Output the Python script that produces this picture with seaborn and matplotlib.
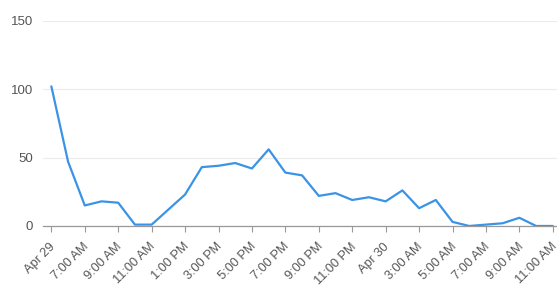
import matplotlib
matplotlib.use("Agg")
import matplotlib.pyplot as plt
import matplotlib.transforms as mtransforms
import seaborn as sns
import pandas as pd

values = [102, 47, 15, 18, 17, 1, 1, 12, 23, 43, 44, 46, 42, 56, 39, 37,
          22, 24, 19, 21, 18, 26, 13, 19, 3, 0, 1, 2, 6, 0, 0]
tick_labels = ["Apr 29", "7:00 AM", "9:00 AM", "11:00 AM", "1:00 PM", "3:00 PM",
               "5:00 PM", "7:00 PM", "9:00 PM", "11:00 PM", "Apr 30", "3:00 AM",
               "5:00 AM", "7:00 AM", "9:00 AM", "11:00 AM"]
y_ticks = [0, 50, 100, 150]

sns.set_theme(style="white")
plt.rcParams['font.family'] = ['Liberation Sans', 'DejaVu Sans']

df = pd.DataFrame({"hour": range(len(values)), "value": values})

fig = plt.figure(figsize=(5.57, 2.93), dpi=100)
ax = fig.add_axes([0.0772, 0.2287, 0.9228, 0.7007])
sns.lineplot(data=df, x="hour", y="value", ax=ax, color="#3b93e6", linewidth=1.6)

ax.set_xlim(-0.5, 30.25)
ax.set_ylim(0, 150)
ax.set_yticks(y_ticks)
ax.set_yticklabels([str(v) for v in y_ticks], color="#555555", fontsize=9.5)
ax.set_xticks(range(0, len(values), 2))
ax.set_xticklabels(tick_labels, rotation=45, ha="right", va="center",
                   rotation_mode="anchor", color="#555555", fontsize=9.2)
ax.tick_params(axis="x", length=4, width=0.8, color="#999999", pad=9.5, direction="out", bottom=True)
ax.tick_params(axis="y", length=0, pad=7.2)
shift = mtransforms.ScaledTranslation(2 / 100, 0, fig.dpi_scale_trans)
for lbl in ax.get_xticklabels():
    lbl.set_transform(lbl.get_transform() + shift)
ax.grid(axis="y", color="#ebebeb", linewidth=0.8)
ax.set_axisbelow(True)
for s in ["top", "right", "left"]:
    ax.spines[s].set_visible(False)
ax.spines["bottom"].set_color("#999999")
ax.spines["bottom"].set_linewidth(0.9)
ax.set_xlabel("")
ax.set_ylabel("")

fig.savefig("out.png", dpi=100)
